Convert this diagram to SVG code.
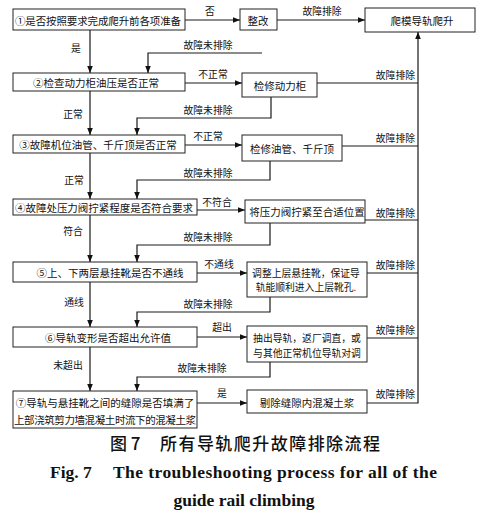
<svg xmlns="http://www.w3.org/2000/svg" width="484" height="522" viewBox="0 0 484 522">
<style>
.box{fill:#fff;stroke:#222;stroke-width:1}
.ln{fill:none;stroke:#1a1a1a;stroke-width:1.2}
.t{font-family:"Noto Sans CJK SC","Noto Sans",sans-serif;font-size:10.5px;fill:#111;text-anchor:middle;dominant-baseline:central}
.s{font-family:"Noto Sans CJK SC","Noto Sans",sans-serif;font-size:9.8px;fill:#111;text-anchor:middle;dominant-baseline:central}
.r{text-anchor:end}
.en{font-family:"Liberation Serif",serif;font-size:17.5px;font-weight:bold;fill:#111}
.zh{font-family:"Noto Sans CJK SC",sans-serif;font-size:17px;font-weight:500;fill:#111}
</style>
<defs>
<marker id="ah" viewBox="0 0 10 10" refX="10" refY="5" markerWidth="7" markerHeight="7" markerUnits="userSpaceOnUse" orient="auto">
<path d="M0,1 L10,5 L0,9 Z" fill="#111"/>
</marker>
</defs>
<rect width="484" height="522" fill="#fff"/>
<g id="connectors">
<line class="ln" x1="185" y1="20" x2="240" y2="20" marker-end="url(#ah)"/>
<line class="ln" x1="277" y1="20" x2="365" y2="20" marker-end="url(#ah)"/>
<line class="ln" x1="90" y1="30" x2="90" y2="73" marker-end="url(#ah)"/>
<polyline class="ln" points="262,53 148,53 148,73" marker-end="url(#ah)"/>
<line class="ln" x1="185" y1="83" x2="242" y2="83" marker-end="url(#ah)"/>
<line class="ln" x1="317" y1="83" x2="418" y2="83"/>
<polyline class="ln" points="271,97 271,118 137,118 137,135" marker-end="url(#ah)"/>
<line class="ln" x1="90" y1="91" x2="90" y2="135" marker-end="url(#ah)"/>
<line class="ln" x1="185" y1="145" x2="242" y2="145" marker-end="url(#ah)"/>
<line class="ln" x1="342" y1="146" x2="418" y2="146"/>
<polyline class="ln" points="270,161 270,180 137,180 137,199" marker-end="url(#ah)"/>
<line class="ln" x1="90" y1="153" x2="90" y2="199" marker-end="url(#ah)"/>
<line class="ln" x1="197" y1="210" x2="245" y2="210" marker-end="url(#ah)"/>
<line class="ln" x1="365" y1="220" x2="418" y2="220"/>
<polyline class="ln" points="270,223 270,245 137,245 137,262" marker-end="url(#ah)"/>
<line class="ln" x1="90" y1="215" x2="90" y2="262" marker-end="url(#ah)"/>
<line class="ln" x1="197" y1="273" x2="247" y2="273" marker-end="url(#ah)"/>
<line class="ln" x1="367" y1="273" x2="418" y2="273"/>
<polyline class="ln" points="270,297 270,312 137,312 137,327" marker-end="url(#ah)"/>
<line class="ln" x1="90" y1="282" x2="90" y2="327" marker-end="url(#ah)"/>
<line class="ln" x1="197" y1="337" x2="247" y2="337" marker-end="url(#ah)"/>
<line class="ln" x1="367" y1="338" x2="418" y2="338"/>
<polyline class="ln" points="270,362 270,377 137,377 137,391" marker-end="url(#ah)"/>
<line class="ln" x1="90" y1="347" x2="90" y2="391" marker-end="url(#ah)"/>
<line class="ln" x1="197" y1="403" x2="247" y2="403" marker-end="url(#ah)"/>
<polyline class="ln" points="367,403 418,403 418,32" marker-end="url(#ah)"/>
<text class="s" x="210" y="11">否</text>
<text class="s" x="322" y="11">故障排除</text>
<text class="s" x="76" y="48">是</text>
<text class="s" x="208" y="45">故障未排除</text>
<text class="s" x="213" y="74">不正常</text>
<text class="s r" x="415" y="75">故障排除</text>
<text class="s" x="208" y="110">故障未排除</text>
<text class="s" x="73" y="114">正常</text>
<text class="s" x="208" y="136">不正常</text>
<text class="s r" x="415" y="138">故障排除</text>
<text class="s" x="208" y="173">故障未排除</text>
<text class="s" x="74" y="180">正常</text>
<text class="s" x="217" y="202">不符合</text>
<text class="s r" x="415" y="213">故障排除</text>
<text class="s" x="208" y="237">故障未排除</text>
<text class="s" x="73" y="231">符合</text>
<text class="s" x="219" y="264">不通线</text>
<text class="s r" x="415" y="265">故障排除</text>
<text class="s" x="208" y="304">故障未排除</text>
<text class="s" x="74" y="302">通线</text>
<text class="s" x="222" y="327">超出</text>
<text class="s r" x="415" y="330">故障排除</text>
<text class="s" x="202" y="368">故障未排除</text>
<text class="s" x="68" y="365">未超出</text>
<text class="s" x="222" y="393">是</text>
<text class="s r" x="415" y="394">故障排除</text>
</g>
<g id="n1"><rect class="box" x="13" y="9" width="172" height="21"/><text class="t" x="98" y="20" textLength="166">①是否按照要求完成爬升前各项准备</text></g>
<g id="n-zhenggai"><rect class="box" x="240" y="9" width="37" height="21"/><text class="t" x="258" y="20">整改</text></g>
<g id="n-end"><rect class="box" x="365" y="8" width="110" height="24"/><text class="t" x="422" y="20">爬模导轨爬升</text></g>
<g id="n2"><rect class="box" x="13" y="73" width="172" height="18"/><text class="t" x="96" y="82">②检查动力柜油压是否正常</text></g>
<g id="n-r2"><rect class="box" x="242" y="73" width="75" height="24"/><text class="t" x="280" y="85">检修动力柜</text></g>
<g id="n3"><rect class="box" x="13" y="135" width="172" height="18"/><text class="t" x="98" y="144">③故障机位油管、千斤顶是否正常</text></g>
<g id="n-r3"><rect class="box" x="242" y="135" width="100" height="26"/><text class="t" x="292" y="148">检修油管、千斤顶</text></g>
<g id="n4"><rect class="box" x="13" y="199" width="184" height="16"/><text class="t" x="104" y="207" textLength="178">④故障处压力阀拧紧程度是否符合要求</text></g>
<g id="n-r4"><rect class="box" x="245" y="200" width="120" height="23"/><text class="t" x="307" y="211">将压力阀拧紧至合适位置</text></g>
<g id="n5"><rect class="box" x="13" y="262" width="184" height="20"/><text class="t" x="110" y="272">⑤上、下两层悬挂靴是否不通线</text></g>
<g id="n-r5"><rect class="box" x="247" y="262" width="120" height="35"/><text class="s" x="306" y="273">调整上层悬挂靴，保证导</text><text class="s" x="306" y="287">轨能顺利进入上层靴孔.</text></g>
<g id="n6"><rect class="box" x="13" y="327" width="184" height="20"/><text class="t" x="108" y="337">⑥导轨变形是否超出允许值</text></g>
<g id="n-r6"><rect class="box" x="247" y="326" width="120" height="36"/><text class="s" x="307" y="338">抽出导轨，返厂调直，或</text><text class="s" x="307" y="353">与其他正常机位导轨对调</text></g>
<g id="n7"><rect class="box" x="13" y="391" width="184" height="37"/><text class="t" x="105" y="402">⑦导轨与悬挂靴之间的缝隙是否填满了</text><text class="t" x="105" y="419" textLength="182">上部浇筑剪力墙混凝土时流下的混凝土浆</text></g>
<g id="n-r7"><rect class="box" x="247" y="390" width="120" height="23"/><text class="t" x="307" y="402">剔除缝隙内混凝土浆</text></g>
<g id="caption">
<text class="zh" x="110" y="450">图 7</text>
<text class="zh" x="160" y="450" textLength="220">所有导轨爬升故障排除流程</text>
<text class="en" x="50" y="478">Fig. 7</text>
<text class="en" x="113" y="478" textLength="324">The troubleshooting process for all of the</text>
<text class="en" x="244" y="506" text-anchor="middle">guide rail climbing</text>
</g>
</svg>
